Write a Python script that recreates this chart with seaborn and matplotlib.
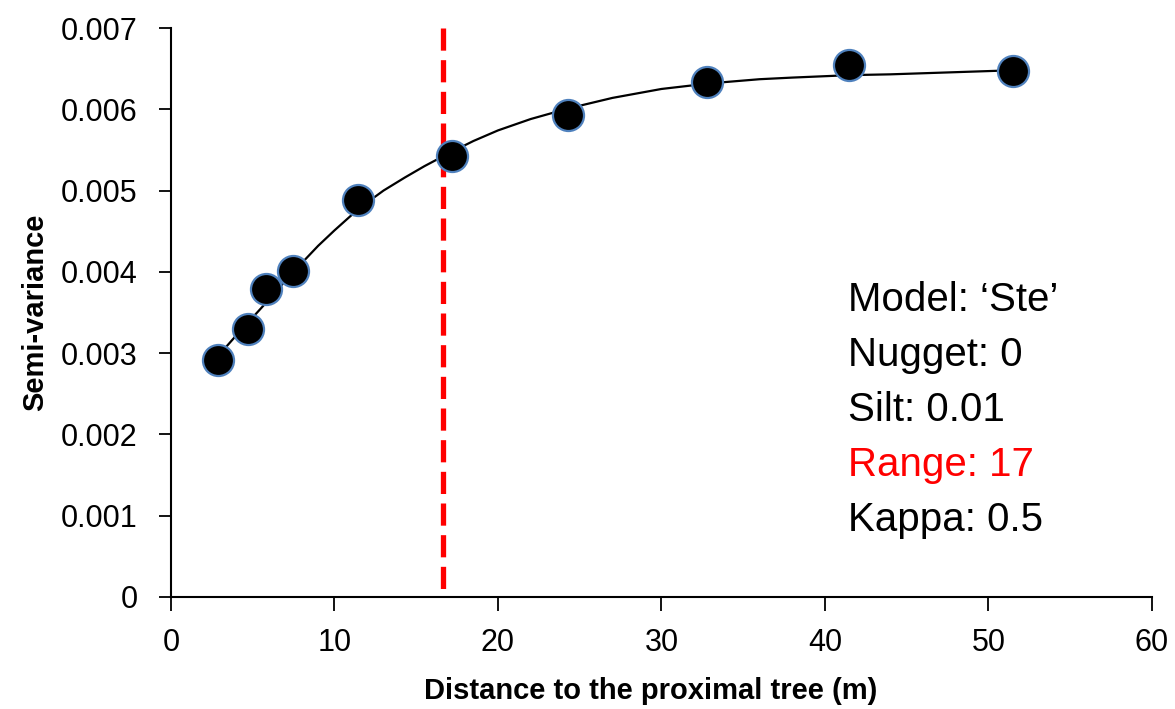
import numpy as np
import pandas as pd
import matplotlib
matplotlib.use("Agg")
import matplotlib.pyplot as plt
import seaborn as sns
from matplotlib import font_manager

# observed semi-variance points
dist = [2.85, 4.73, 5.81, 7.44, 11.46, 17.2, 24.3, 32.8, 41.5, 51.5]
semivar = [0.00291, 0.00330, 0.00379, 0.00401, 0.00488, 0.00543, 0.00593, 0.00633, 0.00655, 0.00647]

# fitted model curve
curve_x = [2.85, 3.3, 4.0, 5.0, 6.0, 7.0, 8.15, 9.0, 10.0, 11.5, 13.0, 14.3, 15.5, 17.0,
           18.5, 20.0, 22.0, 24.3, 27.0, 30.0, 33.0, 36.0, 38.0, 41.5, 44.0, 47.0, 51.5]
curve_y = [0.00290, 0.00306, 0.00322, 0.00344, 0.00366, 0.00389, 0.00414, 0.00432, 0.00451,
           0.00478, 0.00500, 0.00516, 0.00530, 0.00546, 0.00561, 0.00574, 0.00588, 0.00601,
           0.00614, 0.00625, 0.00632, 0.00637, 0.00639, 0.00642, 0.00643, 0.00645, 0.00648]

range_x = 16.65

info_lines = ["Model: \u2018Ste\u2019", "Nugget: 0", "Silt: 0.01", "Range: 17", "Kappa: 0.5"]
info_colors = ["black", "black", "black", "red", "black"]

sns.set_theme(style="ticks")
names = {f.name for f in font_manager.fontManager.ttflist}
narrow = "Liberation Sans Narrow" if "Liberation Sans Narrow" in names else "Liberation Sans"
plt.rcParams['font.family'] = ['Liberation Sans', 'DejaVu Sans']

fig = plt.figure(figsize=(11.75, 7.09), dpi=100)
ax = fig.add_axes([0.1455, 0.158, 0.8349, 0.8025])

pts = pd.DataFrame({"d": dist, "g": semivar})
fit = pd.DataFrame({"d": curve_x, "g": curve_y})

ax.set_xlim(0, 60)
ax.set_ylim(0, 0.007)

sns.lineplot(data=fit, x="d", y="g", ax=ax, color="black", linewidth=1.6, sort=False)
# dashed range marker, drawn top-down so the first dash starts at the top
ylo, yhi = ax.get_ylim()
ax.plot([range_x, range_x], [yhi, ylo], color="red", linewidth=3.8,
        dashes=(4.2, 1.8), zorder=3, solid_capstyle="butt")
sns.scatterplot(data=pts, x="d", y="g", ax=ax, s=500, color="black",
                edgecolor="#4f81bd", linewidth=1.6, zorder=4)

ax.set_xlim(0, 60)
ax.set_ylim(0, 0.007)
ax.set_xticks(range(0, 61, 10))
ax.set_yticks([0, 0.001, 0.002, 0.003, 0.004, 0.005, 0.006, 0.007])
ax.set_yticklabels(["0", "0.001", "0.002", "0.003", "0.004", "0.005", "0.006", "0.007"],
                   fontsize=22, color="black")
ax.set_xticklabels([str(v) for v in range(0, 61, 10)], fontsize=22, family=narrow, color="black")
ax.tick_params(axis="y", length=9, width=1.3, colors="black", pad=15)
ax.tick_params(axis="x", length=10, width=1.3, colors="black", pad=12)
for s in ["top", "right"]:
    ax.spines[s].set_visible(False)
for s in ["left", "bottom"]:
    ax.spines[s].set_linewidth(1.5)
    ax.spines[s].set_color("black")

ax.set_xlabel("Distance to the proximal tree (m)", fontsize=21, fontweight="bold",
              family=narrow, color="black")
ax.set_ylabel("Semi-variance", fontsize=21, fontweight="bold", family=narrow, color="black")
ax.xaxis.set_label_coords(0.489, -0.14)
ax.yaxis.set_label_coords(-0.124, 0.5)

for i, (t, c) in enumerate(zip(info_lines, info_colors)):
    ax.text(0.69, 0.522 - i * 0.0967, t, transform=ax.transAxes, fontsize=29,
            color=c, va="center", ha="left")

fig.savefig("out.png", dpi=100)
